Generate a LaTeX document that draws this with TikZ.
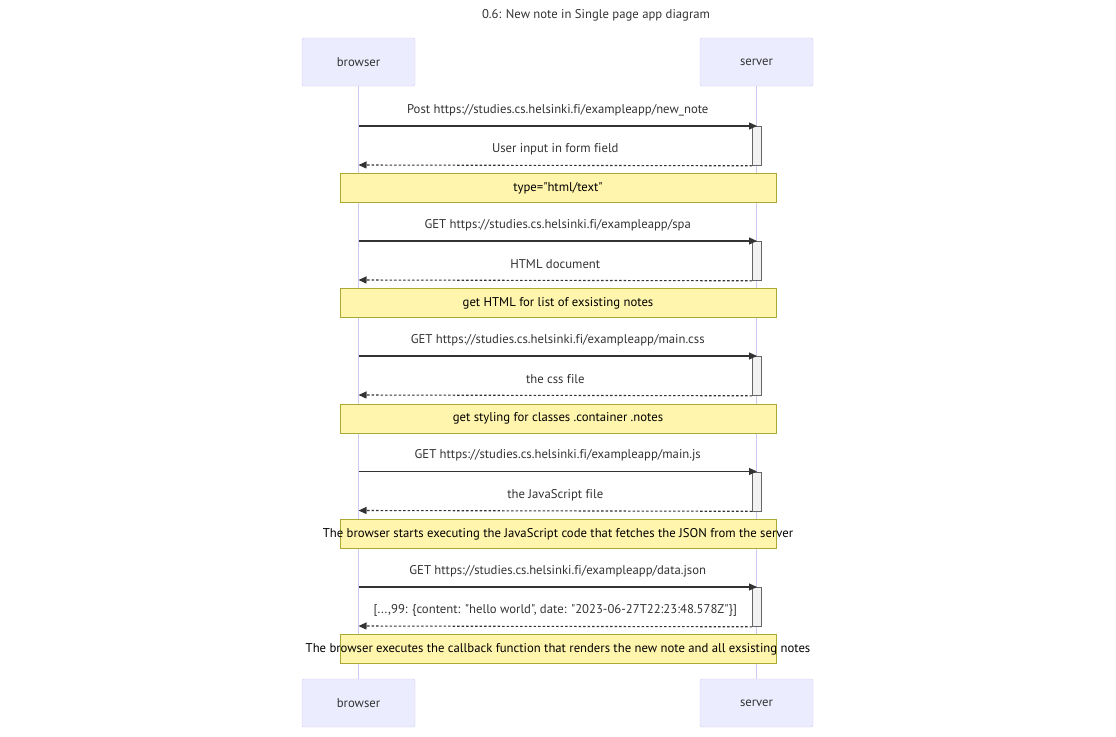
\documentclass[tikz,border=0pt]{standalone}
\usepackage{fontspec}
\newfontfamily\seqfont{PT Sans}[Ligatures=NoCommon]
\usetikzlibrary{arrows.meta}
\definecolor{actfill}{HTML}{ECECFF}
\definecolor{actline}{HTML}{CFC8F2}
\definecolor{notefill}{HTML}{FFF5AD}
\definecolor{noteline}{HTML}{AAAA33}
\definecolor{ink}{HTML}{333333}
\begin{document}
\begin{tikzpicture}[>={Triangle[length=8pt,width=7pt]},x=1pt,y=-1pt,font=\seqfont\fontsize{12.7}{14}\selectfont,text=ink,
 actor/.style={draw=actline,fill=actfill,rounded corners=2pt,minimum width=113pt,minimum height=48pt,inner sep=0pt},
 life/.style={actline,line width=1pt},
 act/.style={draw=black!60,fill=black!5,line width=0.8pt,minimum width=9pt,minimum height=39pt,inner sep=0pt,anchor=north},
 req/.style={->,ink,line width=1.1pt},
 ret/.style={->,ink,line width=1.1pt,dash pattern=on 2.5pt off 2pt},
 lbl/.style={midway,yshift=16pt},
 note/.style={draw=noteline,fill=notefill,line width=0.8pt,minimum width=436pt,minimum height=29pt,inner sep=0pt,text=black}]
\useasboundingbox (0,0) rectangle (1116,736);
\node (title) at (596,15) {0.6: New note in Single page app diagram};
\node[actor] (bt) at (358.5,62) {browser};
\node[actor] (st) at (756.5,62) {server};
\node[actor] (bb) at (358.5,703) {browser};
\node[actor] (sb) at (756.5,703) {server};
\draw[life] (bt) -- (bb);
\draw[life] (st) -- (sb);
% new_note
\coordinate (b1) at (358.5,126); \coordinate (b2) at (358.5,165);
\node[act] (a1) at (757,126) {};
\draw[req] (b1) -- (a1.north) node[lbl]{Post https://studies.cs.helsinki.fi/exampleapp/new\_note};
\draw[ret] (a1.south west) -- (b2) node[lbl]{User input in form field};
\node[note] (n1) at (558,188) {\makebox[0pt]{type="html/text"}};
% spa
\coordinate (b3) at (358.5,241); \coordinate (b4) at (358.5,280);
\node[act] (a2) at (757,241) {};
\draw[req] (b3) -- (a2.north) node[lbl]{GET https://studies.cs.helsinki.fi/exampleapp/spa};
\draw[ret] (a2.south west) -- (b4) node[lbl]{HTML document};
\node[note] (n2) at (558,303) {\makebox[0pt]{get HTML for list of exsisting notes}};
% main.css
\coordinate (b5) at (358.5,356); \coordinate (b6) at (358.5,395);
\node[act] (a3) at (757,356) {};
\draw[req] (b5) -- (a3.north) node[lbl]{GET https://studies.cs.helsinki.fi/exampleapp/main.css};
\draw[ret] (a3.south west) -- (b6) node[lbl]{the css file};
\node[note] (n3) at (558,418.5) {\makebox[0pt]{get styling for classes .container .notes}};
% main.js
\coordinate (b7) at (358.5,471.5); \coordinate (b8) at (358.5,510.5);
\node[act] (a4) at (757,471.5) {};
\draw[req] (b7) -- (a4.north) node[lbl]{GET https://studies.cs.helsinki.fi/exampleapp/main.js};
\draw[ret] (a4.south west) -- (b8) node[lbl]{the JavaScript file};
\node[note] (n4) at (558,534) {\makebox[0pt]{The browser starts executing the JavaScript code that fetches the JSON from the server}};
% data.json
\coordinate (b9) at (358.5,587); \coordinate (b10) at (358.5,626);
\node[act] (a5) at (757,587) {};
\draw[req] (b9) -- (a5.north) node[lbl]{GET https://studies.cs.helsinki.fi/exampleapp/data.json};
\draw[ret] (a5.south west) -- (b10) node[lbl]{[...,99: \{content: "hello world", date: "2023-06-27T22:23:48.578Z"\}]};
\node[note] (n5) at (558,649) {\makebox[0pt]{The browser executes the callback function that renders the new note and all exsisting notes}};
\end{tikzpicture}
\end{document}
